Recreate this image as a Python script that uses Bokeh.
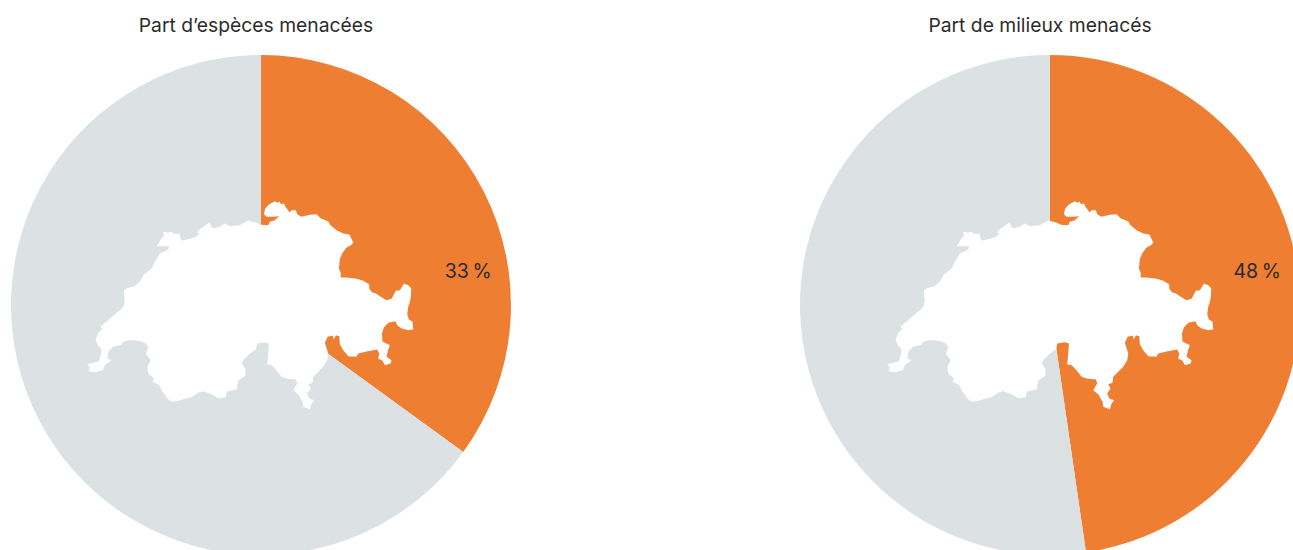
from bokeh.plotting import figure
from bokeh.embed import file_html
from bokeh.resources import INLINE
from bokeh.core.properties import value
from bokeh.models import Range1d
import math

titles = ["Part d’espèces menacées", "Part de milieux menacés"]
value_labels = ["33\u202f%", "48\u202f%"]
# share of the disc drawn in orange, in percent of the full circle
drawn_share = [35.0, 47.7]

ORANGE = "#EE7E32"
GREY = "#DCE1E3"
WHITE = "#FFFFFF"
INK = "#2B2B2B"

centers_x = [260.5, 1049.5]
center_y = -304.5
radius = 250
map_offset_x = [79.4, 879.4]
map_offset_y = 189.7
title_x = [255.5, 1039.5]
title_y = -24
label_x = [467.7, 1256.7]
label_y = -270.5

# outline of Switzerland, traced at 3x scale
outline_x = [552,556,568,585,592,598,604,612,618,630,634,648,652,664,690,710,722,745,752,770,790,808,813,820,812,800,788,780,777,783,782,800,830,850,868,868,876,888,900,920,935,948,960,972,985,994,993,990,985,982,987,998,1000,985,965,952,947,925,912,906,908,930,925,920,935,932,915,908,895,898,892,860,835,830,805,790,780,778,768,762,758,743,735,745,742,730,712,700,698,685,692,682,688,703,695,690,670,668,655,640,652,648,620,605,590,575,562,565,567,555,532,528,510,490,486,498,495,475,470,440,437,415,400,385,368,350,335,318,295,275,262,245,238,218,222,205,202,212,198,206,195,170,145,128,125,100,85,82,95,75,68,45,28,28,22,40,55,62,65,52,47,55,68,62,85,105,130,134,132,140,165,182,190,215,230,240,265,268,230,245,252,250,265,272,285,298,305,345,360,352,362,390,394,400,415,435,450,480,505,530,543,565,570,585,590,598,580,560]
outline_y = [72,55,42,33,38,34,42,40,52,68,60,60,72,80,74,72,84,94,105,120,130,133,142,158,166,172,188,205,235,250,262,262,266,272,282,295,306,310,318,330,326,302,300,280,285,295,318,335,350,372,388,395,418,420,415,405,393,398,412,430,455,465,478,500,510,520,525,512,505,490,478,484,490,500,498,480,462,438,435,448,436,440,458,490,510,530,548,560,578,582,595,610,625,630,640,657,650,635,612,600,580,568,565,560,540,525,522,490,460,456,460,478,490,510,520,540,558,570,598,605,622,624,615,608,603,610,622,625,632,635,625,600,585,575,565,550,530,510,490,470,458,450,450,456,464,470,485,505,510,525,540,546,544,530,522,518,515,500,478,462,448,428,418,408,390,372,352,335,300,294,288,272,255,235,205,190,178,168,168,145,138,124,128,124,132,130,152,142,130,128,115,97,108,114,112,100,108,105,90,98,104,105,95,90,85,78,80,80]

p = figure(width=1293, height=550, output_backend="svg", toolbar_location=None,
           x_range=Range1d(0, 1293), y_range=Range1d(-550, 0),
           min_border=0, outline_line_color=None, background_fill_color=WHITE)
p.axis.visible = False
p.grid.visible = False

for i in range(2):
    end = math.pi / 2 - drawn_share[i] / 100 * 2 * math.pi
    p.wedge(x=[centers_x[i]], y=[center_y], radius=radius, start_angle=math.pi / 2,
            end_angle=end, direction="clock", fill_color=ORANGE, line_color=None)
    p.wedge(x=[centers_x[i]], y=[center_y], radius=radius, start_angle=end,
            end_angle=math.pi / 2, direction="clock", fill_color=GREY, line_color=None)
    p.patch([map_offset_x[i] + v / 3 for v in outline_x],
            [-(map_offset_y + v / 3) for v in outline_y],
            fill_color=WHITE, line_color=None)
    p.text(x=[title_x[i]], y=[title_y], text=[titles[i]], text_align="center",
           text_baseline="middle", text_font=value("Inter"), text_font_size="19.3px", text_color=INK)
    p.text(x=[label_x[i]], y=[label_y], text=[value_labels[i]], text_align="center",
           text_baseline="middle", text_font=value("Inter"), text_font_size="19.5px", text_color=INK)

open("out.html", "w").write(file_html(p, INLINE))
